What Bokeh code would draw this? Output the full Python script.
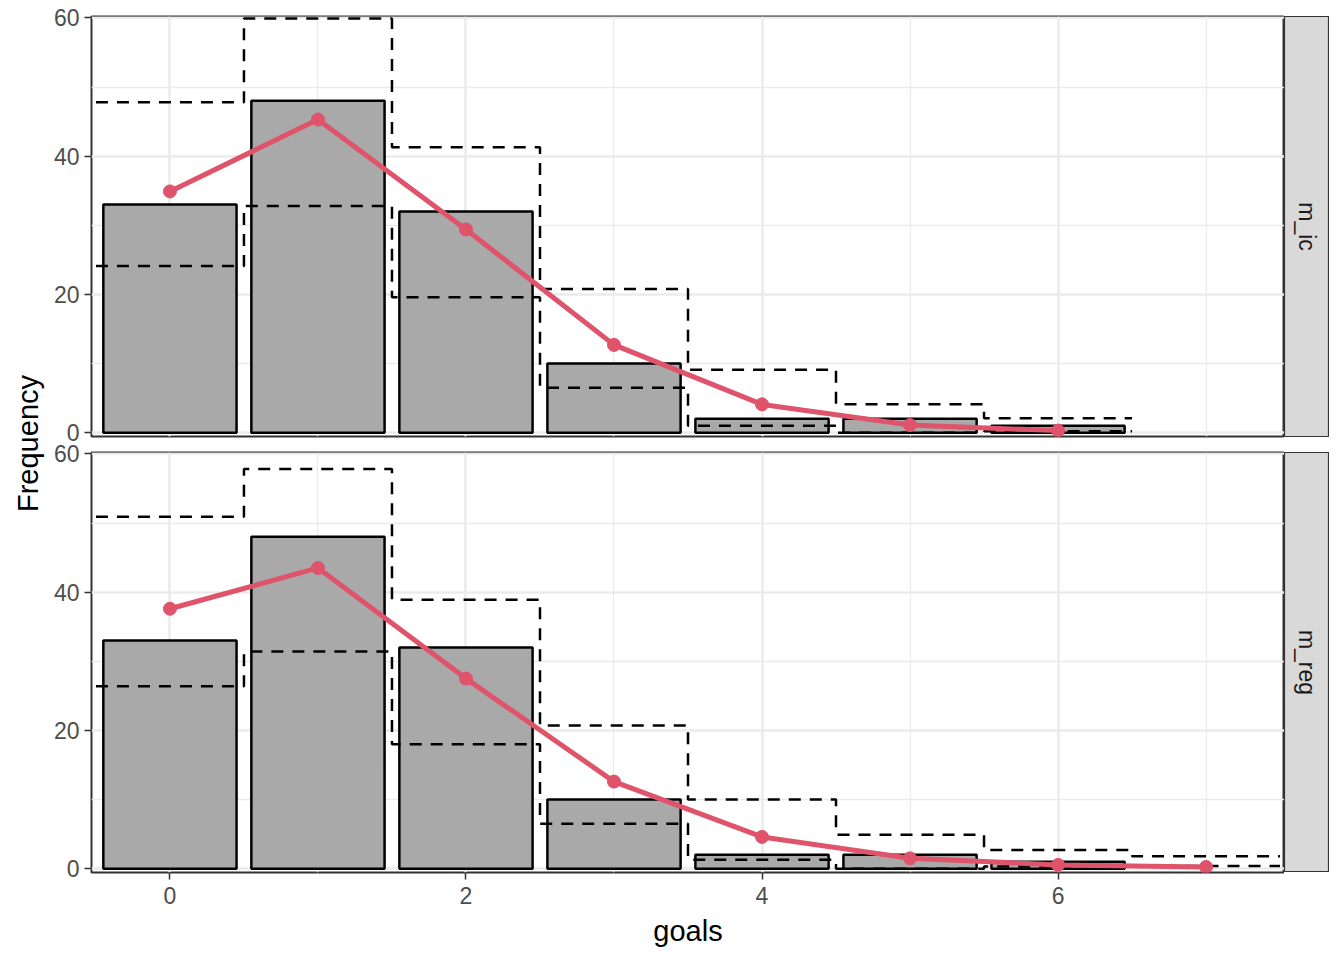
import math
from bokeh.plotting import figure
from bokeh.layouts import row, column
from bokeh.models import Range1d, FixedTicker
from bokeh.embed import file_html
from bokeh.resources import INLINE
from bokeh.core.properties import value

# ---------------- data ----------------
obs_goals = [0, 1, 2, 3, 4, 5, 6]
observed = [33, 48, 32, 10, 2, 2, 1]

goals_ic = [0, 1, 2, 3, 4, 5, 6]
expected_ic = [34.9, 45.3, 29.4, 12.7, 4.1, 1.1, 0.3]
upper_ic = [47.8, 59.9, 41.3, 20.8, 9.1, 4.1, 2.1]
lower_ic = [24.1, 32.8, 19.6, 6.5, 1.0, 0.0, 0.2]

goals_reg = [0, 1, 2, 3, 4, 5, 6, 7]
expected_reg = [37.6, 43.5, 27.5, 12.6, 4.6, 1.5, 0.55, 0.25]
upper_reg = [50.9, 57.8, 38.9, 20.7, 10.0, 4.9, 2.7, 1.8]
lower_reg = [26.4, 31.4, 18.0, 6.5, 1.3, 0.0, 0.3, 0.4]

facet_labels = ["m_ic", "m_reg"]
x_ticks = [0, 2, 4, 6]
x_minor = [1, 3, 5, 7]
y_ticks = [0, 20, 40, 60]
y_minor = [10, 30, 50]

FONT = "Liberation Sans"
RED = "#DF536B"

# layout constants (pixels)
OVER = 12          # overlap between the two panel rows (negative margins)
EXT = 20           # canvas extension beyond the frame toward the other panel


def step_xy(goals, vals):
    xs = [g - 0.5 for g in goals] + [goals[-1] + 0.5]
    ys = list(vals) + [vals[-1]]
    return xs, ys


def style_axis(ax):
    ax.axis_line_color = None
    ax.major_tick_line_color = "#333333"
    ax.major_tick_line_width = 1.5
    ax.major_tick_out = 7
    ax.major_tick_in = 0
    ax.minor_tick_line_color = None
    ax.major_label_text_font = FONT
    ax.major_label_text_font_size = "23px"
    ax.major_label_text_color = "#4D4D4D"
    ax.major_label_standoff = 5


def make_panel(goals, expected, upper, lower, show_x):
    p = figure(frame_width=1193, frame_height=420,
               x_range=Range1d(-0.53, 7.53), y_range=Range1d(-0.55, 60.2),
               output_backend="svg", toolbar_location=None,
               min_border_left=43, min_border_right=0,
               min_border_top=16 if not show_x else EXT,
               min_border_bottom=EXT if not show_x else 4,
               background_fill_color="white", border_fill_color=None)
    p.outline_line_color = "#333333"
    p.outline_line_width = 2

    p.xaxis.ticker = FixedTicker(ticks=x_ticks, minor_ticks=x_minor)
    p.yaxis.ticker = FixedTicker(ticks=y_ticks, minor_ticks=y_minor)
    p.xgrid.ticker = FixedTicker(ticks=x_ticks, minor_ticks=x_minor)
    p.ygrid.ticker = FixedTicker(ticks=y_ticks, minor_ticks=y_minor)
    for g in (p.xgrid, p.ygrid):
        g.grid_line_color = "#EBEBEB"
        g.grid_line_width = 2.5
        g.minor_grid_line_color = "#EBEBEB"
        g.minor_grid_line_width = 1.3

    style_axis(p.yaxis[0])
    style_axis(p.xaxis[0])
    if show_x:
        p.xaxis.axis_label = "goals"
        p.xaxis.axis_label_text_font = FONT
        p.xaxis.axis_label_text_font_size = "29px"
        p.xaxis.axis_label_text_font_style = "normal"
        p.xaxis.axis_label_text_color = "black"
        p.xaxis.axis_label_standoff = 8
        p.xaxis.major_label_standoff = 7
    else:
        p.xaxis.visible = False

    p.vbar(x=obs_goals, top=observed, width=0.9, bottom=0,
           fill_color="#A9A9A9", line_color="black", line_width=2.5)

    xs, ys = step_xy(goals, upper)
    p.step(xs, ys, mode="after", line_color="black", line_width=2.5,
           line_dash="12 9")
    xs, ys = step_xy(goals, lower)
    p.step(xs, ys, mode="after", line_color="black", line_width=2.5,
           line_dash="12 9")

    p.line(goals, expected, line_color=RED, line_width=5)
    p.scatter(goals, expected, size=13, fill_color=RED, line_color=RED)
    return p


def make_strip(label, top_border, bottom_border):
    s = figure(frame_width=45, frame_height=420,
               x_range=Range1d(0, 1), y_range=Range1d(0, 1),
               output_backend="svg", toolbar_location=None,
               x_axis_location=None, y_axis_location=None,
               min_border_left=0, min_border_right=0,
               min_border_top=top_border, min_border_bottom=bottom_border,
               background_fill_color="#D9D9D9", border_fill_color=None)
    s.grid.visible = False
    s.outline_line_color = "#333333"
    s.outline_line_width = 1.2
    s.text(x=[0.5], y=[0.5], text=[label], angle=-math.pi / 2,
           text_font=value(FONT), text_font_size="23px",
           text_color="#1A1A1A", text_align="center",
           text_baseline="middle")
    return s


top = make_panel(goals_ic, expected_ic, upper_ic, lower_ic, False)
bot = make_panel(goals_reg, expected_reg, upper_reg, lower_reg, True)
strip_top = make_strip(facet_labels[0], 16, EXT)
strip_bot = make_strip(facet_labels[1], EXT, 0)

row_top = row(top, strip_top, margin=(0, 0, -OVER, 0))
row_bot = row(bot, strip_bot, margin=(-OVER, 0, 0, 0))

TOTAL_H = 944
ylab = figure(frame_width=48, frame_height=TOTAL_H,
              x_range=Range1d(0, 48), y_range=Range1d(0, TOTAL_H),
              output_backend="svg", toolbar_location=None,
              x_axis_location=None, y_axis_location=None,
              min_border=0, border_fill_color=None,
              background_fill_color=None)
ylab.grid.visible = False
ylab.outline_line_color = None
ylab.text(x=[27], y=[TOTAL_H - 443], text=["Frequency"], angle=math.pi / 2,
          text_font=value(FONT), text_font_size="29px", text_color="black",
          text_align="center", text_baseline="middle")

layout = row(ylab, column(row_top, row_bot))

open("out.html", "w").write(file_html(layout, INLINE))
